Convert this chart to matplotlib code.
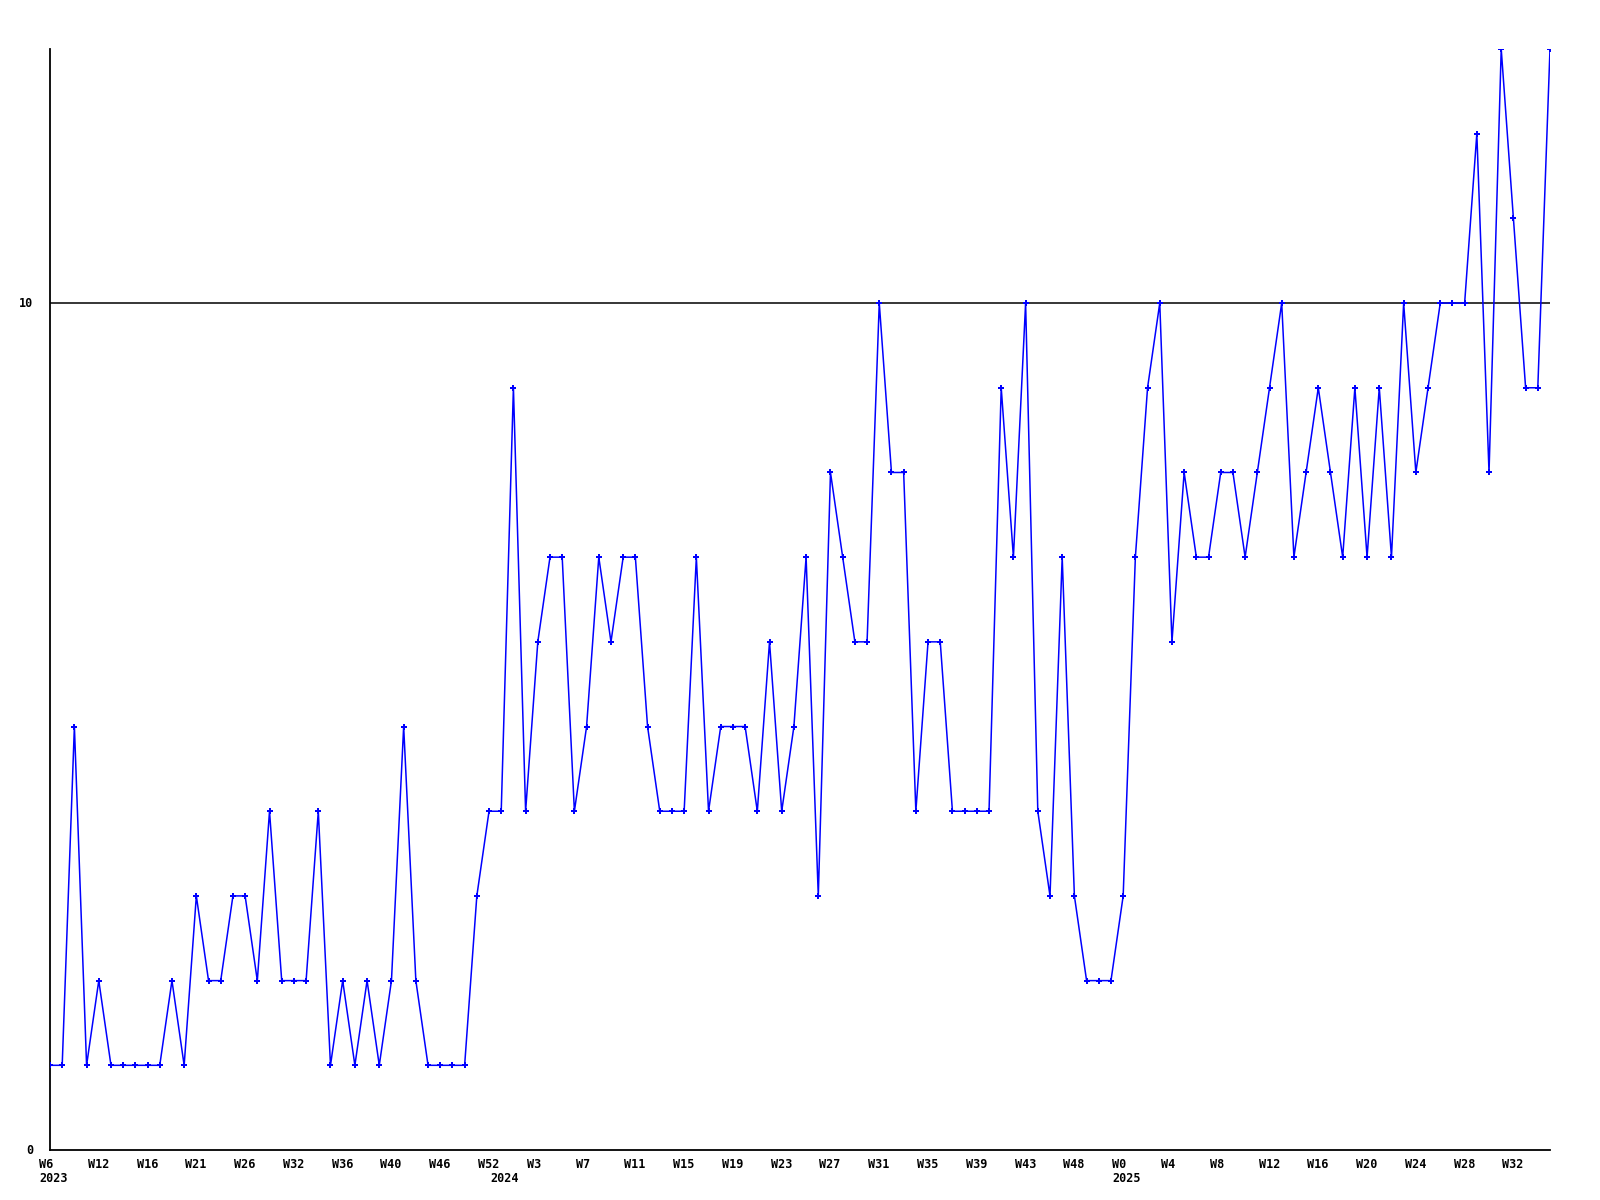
import matplotlib
matplotlib.use("Agg")
import matplotlib.pyplot as plt
import matplotlib.transforms as mtransforms

# valores semanales (uno por semana)
valores = [1, 1, 5, 1, 2, 1, 1, 1, 1, 1, 2, 1, 3, 2, 2, 3, 3, 2, 4, 2,
           2, 2, 4, 1, 2, 1, 2, 1, 2, 5, 2, 1, 1, 1, 1, 3, 4, 4, 9, 4,
           6, 7, 7, 4, 5, 7, 6, 7, 7, 5, 4, 4, 4, 7, 4, 5, 5, 5, 4, 6,
           4, 5, 7, 3, 8, 7, 6, 6, 10, 8, 8, 4, 6, 6, 4, 4, 4, 4, 9, 7,
           10, 4, 3, 7, 3, 2, 2, 2, 3, 7, 9, 10, 6, 8, 7, 7, 8, 8, 7, 8,
           9, 10, 7, 8, 9, 8, 7, 9, 7, 9, 7, 10, 8, 9, 10, 10, 10, 12, 8, 13,
           11, 9, 9, 13]

# etiquetas de semana, una cada 4 puntos
etiquetas_semana = ["W6", "W12", "W16", "W21", "W26", "W32", "W36", "W40",
                    "W46", "W52", "W3", "W7", "W11", "W15", "W19", "W23",
                    "W27", "W31", "W35", "W39", "W43", "W48", "W0", "W4",
                    "W8", "W12", "W16", "W20", "W24", "W28", "W32"]
paso_etiqueta = 4

# comienzo de cada anio (indice del punto)
anios = ["2023", "2024", "2025"]
inicio_anio = [0, 37, 88]

y_ticks = [0, 10]

x = list(range(len(valores)))

fig = plt.figure(figsize=(16, 12), dpi=100)
ax = fig.add_axes([50 / 1600, 1 - 1150 / 1200, 1500 / 1600, 1101 / 1200])

ax.axhline(10, color="black", linewidth=1.1, zorder=1)
ax.plot(x, valores, color="#0000ff", linewidth=1.1, marker="P",
        markersize=4, markeredgewidth=0, zorder=3)

ax.set_xlim(0, len(valores) - 1)
ax.set_ylim(0, 13)
ax.set_xticks([])
ax.set_yticks([])
for lado in ["top", "right"]:
    ax.spines[lado].set_visible(False)
for lado in ["left", "bottom"]:
    ax.spines[lado].set_linewidth(1.3)
    ax.spines[lado].set_color("black")

fuente = dict(family="DejaVu Sans Mono", fontweight="bold", fontsize=8.5)

# etiquetas del eje x
trans_x = mtransforms.offset_copy(ax.get_xaxis_transform(), fig=fig,
                                  x=-11, y=-8, units="dots")
for i, texto in enumerate(etiquetas_semana):
    ax.text(i * paso_etiqueta, 0, texto, transform=trans_x,
            ha="left", va="top", **fuente)

trans_anio = mtransforms.offset_copy(ax.get_xaxis_transform(), fig=fig,
                                     x=-11, y=-22, units="dots")
for anio, inicio in zip(anios, inicio_anio):
    ax.text(inicio, 0, anio, transform=trans_anio,
            ha="left", va="top", **fuente)

# etiquetas del eje y
trans_y = mtransforms.offset_copy(ax.get_yaxis_transform(), fig=fig,
                                  x=-17, y=0, units="dots")
for v in y_ticks:
    ax.text(0, v, str(v), transform=trans_y, ha="right", va="center",
            **fuente)

fig.savefig("out.png", dpi=100)
